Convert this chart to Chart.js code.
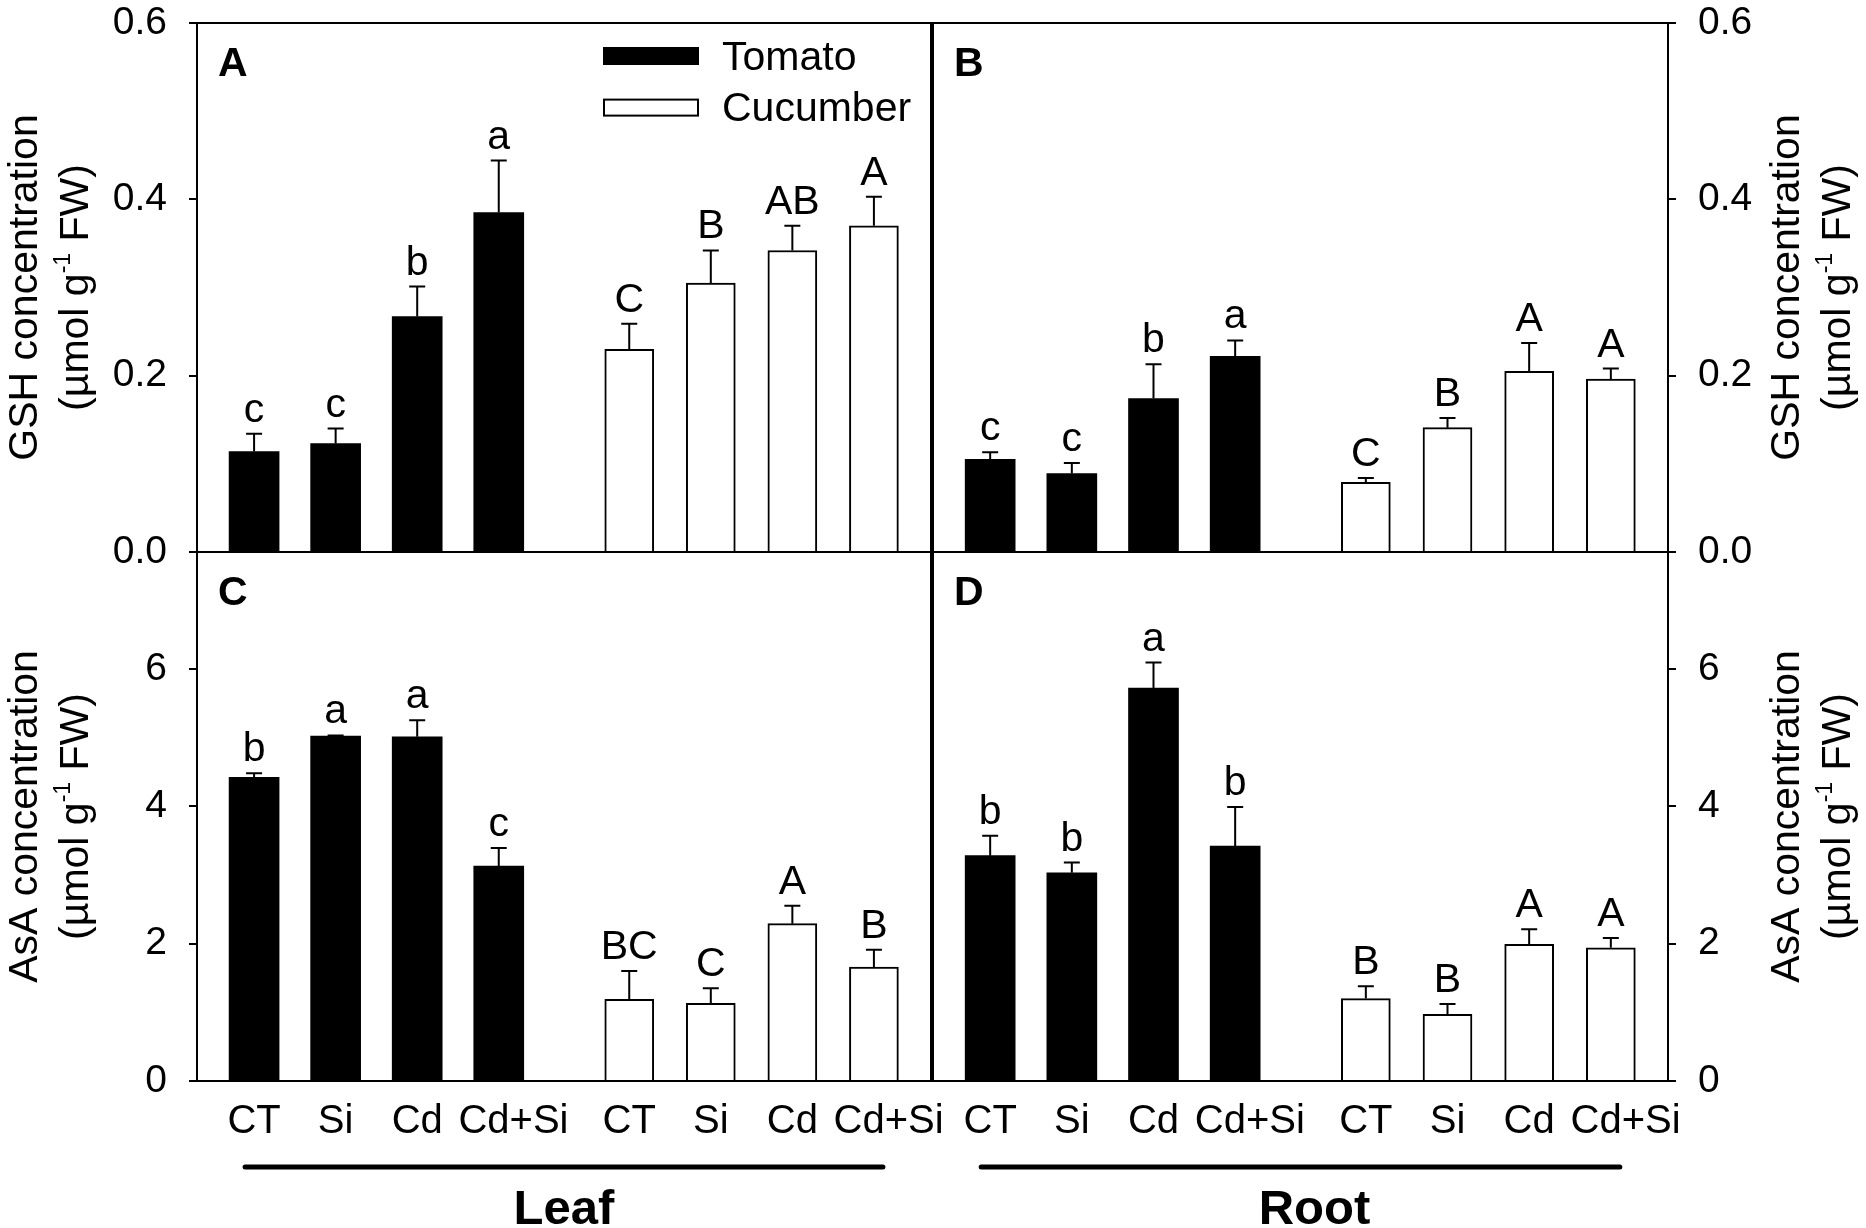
<!DOCTYPE html>
<html>
<head>
<meta charset="utf-8">
<title>GSH and AsA concentration</title>
<script src="https://cdn.jsdelivr.net/npm/chart.js@4.4.1/dist/chart.umd.min.js"></script>
<style>
  html, body { margin: 0; padding: 0; background: #fff; overflow: hidden; }
  #wrap { position: relative; width: 1866px; height: 1228px; }
  #wrap canvas { position: absolute; left: 0; top: 0; }
</style>
</head>
<body>
<div id="wrap">
  <canvas id="panelA" width="1866" height="1228"></canvas>
  <canvas id="panelB" width="1866" height="1228"></canvas>
  <canvas id="panelC" width="1866" height="1228"></canvas>
  <canvas id="panelD" width="1866" height="1228"></canvas>
</div>
<script>
// ---- data ----
const treatments = ['CT', 'Si', 'Cd', 'Cd+Si'];
const species = ['Tomato', 'Cucumber'];
const organs = ['Leaf', 'Root'];
const gshTicks = [0, 0.2, 0.4, 0.6];
const asaTicks = [0, 2, 4, 6];

// GSH, leaf (panel A)
const gshLeafTomato = [0.114, 0.123, 0.267, 0.385];
const gshLeafTomatoErr = [0.020, 0.017, 0.034, 0.059];
const gshLeafTomatoSig = ['c', 'c', 'b', 'a'];
const gshLeafCucumber = [0.230, 0.305, 0.342, 0.370];
const gshLeafCucumberErr = [0.029, 0.037, 0.028, 0.033];
const gshLeafCucumberSig = ['C', 'B', 'AB', 'A'];

// GSH, root (panel B)
const gshRootTomato = [0.105, 0.089, 0.174, 0.222];
const gshRootTomatoErr = [0.008, 0.012, 0.039, 0.018];
const gshRootTomatoSig = ['c', 'c', 'b', 'a'];
const gshRootCucumber = [0.079, 0.141, 0.205, 0.196];
const gshRootCucumberErr = [0.005, 0.011, 0.032, 0.012];
const gshRootCucumberSig = ['C', 'B', 'A', 'A'];

// AsA, leaf (panel C)
const asaLeafTomato = [4.42, 5.02, 5.01, 3.13];
const asaLeafTomatoErr = [0.06, 0.01, 0.24, 0.26];
const asaLeafTomatoSig = ['b', 'a', 'a', 'c'];
const asaLeafCucumber = [1.19, 1.13, 2.29, 1.66];
const asaLeafCucumberErr = [0.41, 0.22, 0.26, 0.25];
const asaLeafCucumberSig = ['BC', 'C', 'A', 'B'];

// AsA, root (panel D)
const asaRootTomato = [3.28, 3.03, 5.72, 3.42];
const asaRootTomatoErr = [0.29, 0.15, 0.37, 0.57];
const asaRootTomatoSig = ['b', 'b', 'a', 'b'];
const asaRootCucumber = [1.20, 0.97, 1.99, 1.94];
const asaRootCucumberErr = [0.18, 0.15, 0.22, 0.14];
const asaRootCucumberSig = ['B', 'B', 'A', 'A'];

// ---- layout ----
const FONT = "'Liberation Sans', Arial, Helvetica, sans-serif";
const W = 1866, H = 1228;
const LEFT = 197, MID_L = 931, MID_R = 933, RIGHT = 1668;
const TOP = 23, MIDY = 552, BOTTOM = 1081;
const GROUP_GAP = 0.6;
const X_MIN = -0.7, X_MAX = 3 + 1 + GROUP_GAP + 3 + 0.7;
const labelNudge = [0, 0, 0, 0.18];   // the "Cd+Si" labels sit a bit right of their bar

Chart.defaults.font.family = FONT;
Chart.defaults.color = '#000';

const xPos = (s, i) => i + s * (treatments.length + GROUP_GAP);
const barPositions = species.flatMap((sp, s) => treatments.map((t, i) => xPos(s, i)));
const labelPositions = species.flatMap((sp, s) => treatments.map((t, i) => xPos(s, i) + labelNudge[i]));
const xTickLabels = species.flatMap(() => treatments);

function noPad(a) {
  a.paddingTop = 0; a.paddingBottom = 0; a.paddingLeft = 0; a.paddingRight = 0;
}

function drawYTitle(ctx, area, side, metabolite) {
  const cy = (area.top + area.bottom) / 2;
  const base1 = side === 'left' ? area.left - 160 : area.right + 131;
  const base2 = base1 + 50.5;
  ctx.save();
  ctx.fillStyle = '#000';
  ctx.textBaseline = 'alphabetic';
  ctx.font = '41px ' + FONT;
  ctx.save();
  ctx.translate(base1, cy);
  ctx.rotate(-Math.PI / 2);
  ctx.textAlign = 'center';
  ctx.fillText(metabolite + ' concentration', 0, 0);
  ctx.restore();

  const partA = '(\u00b5mol g', sup = '-1', partB = ' FW)';
  ctx.font = '41px ' + FONT;
  const wA = ctx.measureText(partA).width;
  const wB = ctx.measureText(partB).width;
  ctx.font = '23px ' + FONT;
  const wS = ctx.measureText(sup).width;
  ctx.translate(base2, cy);
  ctx.rotate(-Math.PI / 2);
  ctx.textAlign = 'left';
  let x = -(wA + wS + wB) / 2;
  ctx.font = '41px ' + FONT;
  ctx.fillText(partA, x, 0);
  x += wA;
  ctx.font = '23px ' + FONT;
  ctx.fillText(sup, x, -18);
  x += wS;
  ctx.font = '41px ' + FONT;
  ctx.fillText(partB, x, 0);
  ctx.restore();
}

const panelDecor = {
  id: 'panelDecor',
  afterDatasetsDraw(chart, args, o) {
    const ctx = chart.ctx;
    const area = chart.chartArea;
    const yScale = chart.scales.y;
    const xScale = chart.scales.x;
    ctx.save();

    // error bars and significance letters
    chart.data.datasets.forEach((ds, di) => {
      chart.getDatasetMeta(di).data.forEach((bar, i) => {
        const yTop = yScale.getPixelForValue(ds.data[i].y + ds.errors[i]);
        ctx.strokeStyle = '#000';
        ctx.lineWidth = 2;
        ctx.beginPath();
        ctx.moveTo(bar.x, bar.y);
        ctx.lineTo(bar.x, yTop);
        ctx.moveTo(bar.x - 8, yTop);
        ctx.lineTo(bar.x + 8, yTop);
        ctx.stroke();
        ctx.fillStyle = '#000';
        ctx.font = '41px ' + FONT;
        ctx.textAlign = 'center';
        ctx.textBaseline = 'alphabetic';
        ctx.fillText(ds.letters[i], bar.x, yTop - 12);
      });
    });

    // frame
    ctx.strokeStyle = '#000';
    ctx.lineWidth = 2;
    ctx.strokeRect(area.left, area.top, area.right - area.left, area.bottom - area.top);

    // panel tag
    ctx.fillStyle = '#000';
    ctx.font = 'bold 41px ' + FONT;
    ctx.textAlign = 'left';
    ctx.textBaseline = 'alphabetic';
    ctx.fillText(o.tag, area.left + 21, area.top + 53);

    // legend
    if (o.legend) {
      chart.data.datasets.forEach((ds, di) => {
        const bx = area.left + 407, by = area.top + 25 + di * 51.6;
        ctx.fillStyle = ds.backgroundColor;
        ctx.fillRect(bx, by, 94, 16);
        ctx.lineWidth = 2;
        ctx.strokeStyle = '#000';
        ctx.strokeRect(bx, by, 94, 16);
        ctx.fillStyle = '#000';
        ctx.font = '41px ' + FONT;
        ctx.textAlign = 'left';
        ctx.fillText(ds.label, area.left + 525, area.top + 47 + di * 51.3);
      });
    }

    // organ bar and name under the bottom panels
    if (o.group) {
      const x1 = xScale.getPixelForValue(barPositions[0]) - 9;
      const x2 = xScale.getPixelForValue(barPositions[barPositions.length - 1]) + 9;
      const ly = area.bottom + 86;
      ctx.strokeStyle = '#000';
      ctx.lineWidth = 5;
      ctx.lineCap = 'round';
      ctx.beginPath();
      ctx.moveTo(x1, ly);
      ctx.lineTo(x2, ly);
      ctx.stroke();
      ctx.font = 'bold 49px ' + FONT;
      ctx.textAlign = 'center';
      ctx.fillText(o.group, (x1 + x2) / 2 + o.groupShift, area.bottom + 143);
    }

    drawYTitle(ctx, area, o.side, o.metabolite);
    ctx.restore();
  }
};

function makePanel(id, p) {
  const datasets = species.map((sp, s) => ({
    label: sp,
    data: p.values[s].map((v, i) => ({ x: xPos(s, i), y: v })),
    errors: p.errors[s],
    letters: p.letters[s],
    backgroundColor: s === 0 ? '#000000' : '#ffffff',
    borderColor: '#000000',
    borderWidth: s === 0 ? 0 : 2,
    barThickness: s === 0 ? 50 : 49,
    grouped: false
  }));
  // the y axis takes the whole margin on its side, the x axis the margin below
  const yWidth = p.side === 'left' ? p.box.left : W - p.box.right;
  const xHeight = p.group ? H - p.box.bottom : 0;
  const pad = {
    left: p.side === 'left' ? 0 : p.box.left,
    right: p.side === 'right' ? 0 : W - p.box.right,
    top: p.box.top,
    bottom: H - p.box.bottom - xHeight
  };
  return new Chart(document.getElementById(id), {
    type: 'bar',
    data: { datasets },
    options: {
      responsive: false,
      animation: false,
      devicePixelRatio: 1,
      layout: { padding: pad },
      plugins: {
        legend: { display: false },
        tooltip: { enabled: false },
        panelDecor: {
          tag: p.tag, side: p.side, metabolite: p.metabolite,
          legend: !!p.legend, group: p.group, groupShift: p.groupShift || 0
        }
      },
      scales: {
        x: {
          type: 'linear',
          min: X_MIN,
          max: X_MAX,
          offset: false,
          grid: { display: false, drawTicks: false, offset: false },
          border: { display: false },
          afterBuildTicks: a => { a.ticks = labelPositions.map(v => ({ value: v })); },
          afterFit: a => { a.height = xHeight; noPad(a); },
          ticks: {
            display: !!p.group,
            autoSkip: false, maxRotation: 0, minRotation: 0,
            padding: 17, color: '#000', font: { size: 40 },
            callback: (v, i) => xTickLabels[i]
          }
        },
        y: {
          position: p.side,
          min: 0,
          max: p.yMax,
          grid: { display: true, drawOnChartArea: false, drawTicks: true, tickLength: 8, color: '#000', lineWidth: 2 },
          border: { display: false },
          afterBuildTicks: a => { a.ticks = p.yTicks.map(v => ({ value: v })); },
          afterFit: a => { a.width = yWidth; noPad(a); },
          ticks: { padding: 22, color: '#000', font: { size: 39 }, callback: p.fmt }
        }
      }
    },
    plugins: [panelDecor]
  });
}

const fmtGsh = v => Number(v).toFixed(1);
const fmtAsa = v => String(v);

makePanel('panelA', {
  tag: 'A', side: 'left', metabolite: 'GSH', legend: true,
  box: { left: LEFT, right: MID_L, top: TOP, bottom: MIDY },
  yMax: 0.6, yTicks: gshTicks, fmt: fmtGsh,
  values: [gshLeafTomato, gshLeafCucumber],
  errors: [gshLeafTomatoErr, gshLeafCucumberErr],
  letters: [gshLeafTomatoSig, gshLeafCucumberSig]
});
makePanel('panelB', {
  tag: 'B', side: 'right', metabolite: 'GSH',
  box: { left: MID_R, right: RIGHT, top: TOP, bottom: MIDY },
  yMax: 0.6, yTicks: gshTicks, fmt: fmtGsh,
  values: [gshRootTomato, gshRootCucumber],
  errors: [gshRootTomatoErr, gshRootCucumberErr],
  letters: [gshRootTomatoSig, gshRootCucumberSig]
});
makePanel('panelC', {
  tag: 'C', side: 'left', metabolite: 'AsA', group: organs[0],
  box: { left: LEFT, right: MID_L, top: MIDY, bottom: BOTTOM },
  yMax: 7.7, yTicks: asaTicks, fmt: fmtAsa,
  values: [asaLeafTomato, asaLeafCucumber],
  errors: [asaLeafTomatoErr, asaLeafCucumberErr],
  letters: [asaLeafTomatoSig, asaLeafCucumberSig]
});
makePanel('panelD', {
  tag: 'D', side: 'right', metabolite: 'AsA', group: organs[1], groupShift: 14,
  box: { left: MID_R, right: RIGHT, top: MIDY, bottom: BOTTOM },
  yMax: 7.7, yTicks: asaTicks, fmt: fmtAsa,
  values: [asaRootTomato, asaRootCucumber],
  errors: [asaRootTomatoErr, asaRootCucumberErr],
  letters: [asaRootTomatoSig, asaRootCucumberSig]
});
</script>
</body>
</html>
